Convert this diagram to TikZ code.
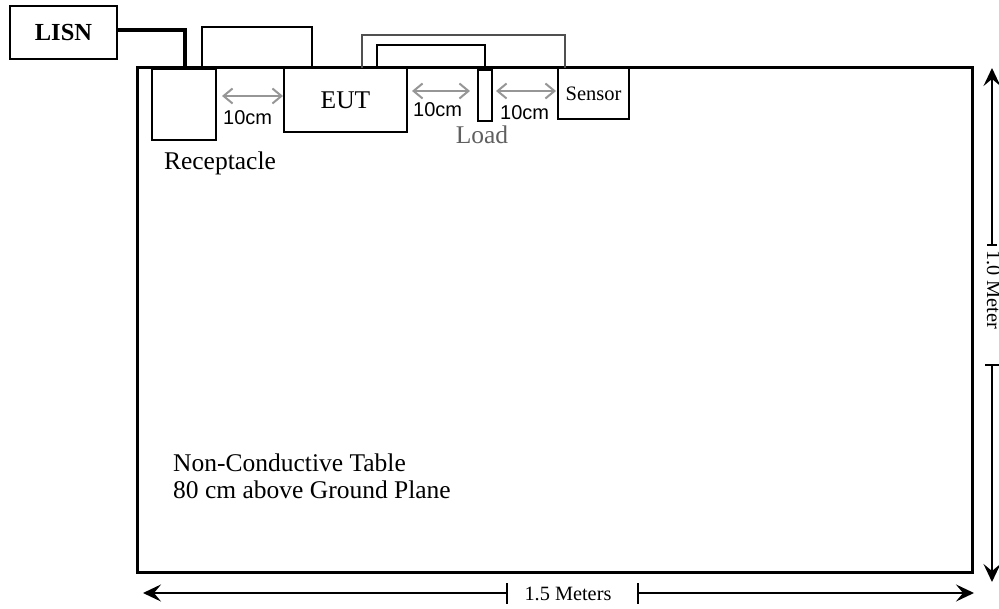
\documentclass[tikz,border=0pt]{standalone}
\usepackage{fontspec}
\setmainfont{Liberation Serif}
\newfontfamily\arialfont{Liberation Sans}
\usetikzlibrary{arrows.meta,calc}
\definecolor{gaygray}{RGB}{150,150,150}
\definecolor{loadgray}{RGB}{95,95,95}
\definecolor{cordgray}{RGB}{80,80,80}
\tikzset{
    box/.style={draw,line width=2pt,inner sep=0pt,outer sep=0pt,anchor=north west},
    gaparrow/.style={draw=gaygray,line width=2pt,{Straight Barb[length=9pt,width=15pt]}-{Straight Barb[length=9pt,width=15pt]}},
    dimarrow/.style={line width=2pt,-{Stealth[length=18pt,width=17pt,inset=7pt]}},
    lbl/.style={inner sep=0pt,font=\fontsize{25.5}{27}\selectfont},
    cmlbl/.style={inner sep=0pt,anchor=base west,font=\arialfont\fontsize{20}{22}\selectfont},
    dimlbl/.style={inner sep=0pt,font=\fontsize{20.3}{22}\selectfont}
}
\begin{document}
\begin{tikzpicture}[x=1pt,y=-1pt]
            \clip (0,0) rectangle (999,609);
            \draw[line width=3pt] (137,68) rectangle (972,572);
            \node[box,minimum width=107pt,minimum height=53pt,font=\bfseries\fontsize{24.5}{26}\selectfont] (lisn) at (10,6) {LISN};
            \node[box,minimum width=64pt,minimum height=71pt] (rcpt) at (152,69) {};
            \node[box,minimum width=123pt,minimum height=64pt,font=\fontsize{25.5}{27}\selectfont] (eut) at (284,68) {EUT};
            \node[box,minimum width=14pt,minimum height=51pt] (load) at (478,70) {};
            \node[box,minimum width=71pt,minimum height=51pt,font=\fontsize{20.5}{22}\selectfont] (sensor) at (558,68) {Sensor};
            \draw[line width=4pt] ($(lisn.east)+(0,-2)$) -| ($(rcpt.north west)+(33,0)$);
            \draw[line width=2pt] ($(rcpt.north east)+(-14,0)$) -- ++(0,-42) -| ($(eut.north west)+(28,0)$);
            \draw[line width=1.5pt,cordgray] ($(eut.north west)+(78,0)$) -- ++(0,-33) -| ($(sensor.north west)+(7,0)$);
            \draw[line width=2pt] ($(eut.north west)+(93,0)$) -- ++(0,-23) -| ($(load.north)+(0,-2)$);
            \draw[gaparrow] ($(eut.west -| rcpt.east)+(6,-4)$) -- ($(eut.west)+(-1,-4)$);
            \draw[gaparrow] ($(eut.east)+(5,-9)$) -- ($(load.west)+(-8,-4.5)$);
            \draw[gaparrow] ($(load.east)+(4,-4.5)$) -- ($(sensor.west)+(-2,-2.5)$);
            \node[cmlbl] (gap1) at (223,125) {10cm};
            \node[cmlbl] (gap2) at (413,117) {10cm};
            \node[cmlbl] (gap3) at (500,120) {10cm};
            \node[lbl,anchor=base] (rcptlbl) at (220,170) {Receptacle};
            \node[lbl,anchor=base,text=loadgray] (loadlbl) at (482,144) {Load};
            \node[lbl,anchor=base west,align=left] (tablelbl) at (173,498) {Non-Conductive Table\\80 cm above Ground Plane};
            \coordinate (htop) at (992,68);
            \coordinate (hbot) at (992,582);
            \coordinate (wleft) at (143,593);
            \coordinate (wright) at (974,593);
            \draw[dimarrow] (992,245) -- (htop);
            \draw[line width=2pt] (987,245) -- (997,245);
            \node[dimlbl,anchor=base west,rotate=-90] (hlbl) at (987,250) {1.0 Meter};
            \draw[line width=2pt] (985,365) -- (999,365);
            \draw[dimarrow] (992,365) -- (hbot);
            \draw[dimarrow] (507,593) -- (wleft);
            \draw[line width=2pt] (507,583) -- (507,604);
            \node[dimlbl,anchor=base] (wlbl) at (568,600) {1.5 Meters};
            \draw[line width=2pt] (638,583) -- (638,604);
            \draw[dimarrow] (638,593) -- (wright);
        \end{tikzpicture}
\end{document}
